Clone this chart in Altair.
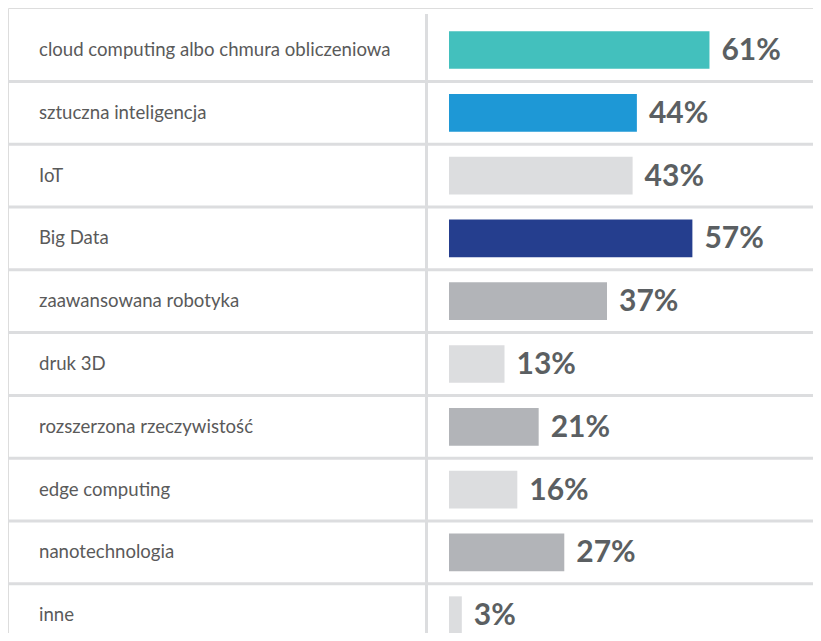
import altair as alt
import pandas as pd

categories = [
    "cloud computing albo chmura obliczeniowa",
    "sztuczna inteligencja",
    "IoT",
    "Big Data",
    "zaawansowana robotyka",
    "druk 3D",
    "rozszerzona rzeczywistość",
    "edge computing",
    "nanotechnologia",
    "inne",
]
values = [61, 44, 43, 57, 37, 13, 21, 16, 27, 3]
colors = ["#43c0bd", "#1e98d6", "#dcdddf", "#253e8e", "#b2b4b8",
          "#dcdddf", "#b2b4b8", "#dcdddf", "#b2b4b8", "#dcdddf"]

df = pd.DataFrame({
    "cat": categories,
    "val": values,
    "color": colors,
    "label": [f"{v}%" for v in values],
})
seps = pd.DataFrame({"cat": categories[1:]})

W, H = 805, 625
STEP = 62.8
yscale = alt.Scale(domain=categories, range=[10.6, 10.6 + 10 * STEP], paddingInner=0.4, paddingOuter=0.2)
xscale = alt.Scale(domain=[0, 100], range=[441, 868])
ycat = alt.Y("cat:N", scale=yscale, axis=None, sort=categories)

sep = alt.Chart(seps).mark_rule(color="#dcdddf", strokeWidth=3, yOffset=-STEP / 2).encode(
    y=ycat, x=alt.value(0), x2=alt.value(W)
)
vline = alt.Chart(pd.DataFrame({"a": [0]})).mark_rule(color="#dcdddf", strokeWidth=3).encode(
    x=alt.value(418.5), y=alt.value(6), y2=alt.value(H)
)
bars = alt.Chart(df).mark_bar(cornerRadius=0).encode(
    y=ycat,
    x=alt.X("val:Q", scale=xscale, axis=None),
    x2=alt.datum(0),
    color=alt.Color("color:N", scale=None),
)
vals = alt.Chart(df).mark_text(
    align="left", baseline="middle", dx=12, font="Lato", fontWeight="bold",
    fontSize=30, color="#5b5f62", dy=1,
).encode(y=ycat, x=alt.X("val:Q", scale=xscale, axis=None), text="label:N")
names = alt.Chart(df).mark_text(
    align="left", baseline="middle", font="Lato", fontSize=18.6, color="#5a5a5a",
).encode(y=ycat, x=alt.value(31), text="cat:N")

chart = alt.layer(sep, vline, bars, vals, names).properties(
    width=W, height=H, autosize=alt.AutoSizeParams(type="none"), padding=0
).configure_view(strokeWidth=0, stroke="transparent").configure(background="white")

chart.save("out.html", embed_options={"renderer": "svg", "actions": False})
